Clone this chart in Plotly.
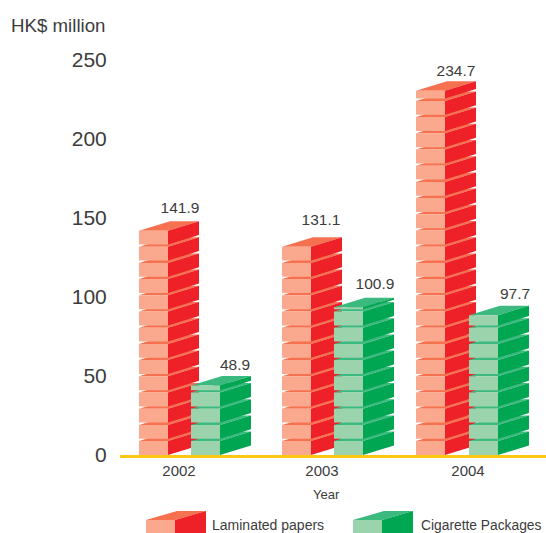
import plotly.graph_objects as go

# --- data ---
years = ["2002", "2003", "2004"]
laminated_labels = ["141.9", "131.1", "234.7"]
cigarette_labels = ["48.9", "100.9", "97.7"]
# drawn heights as read against the picture's y axis
laminated_heights = [142.0, 132.0, 230.5]
cigarette_heights = [44.0, 93.5, 88.5]

# --- layout constants (px) ---
W, H = 546, 533
L, R, T, B = 120, 546, 50, 455
PX = 1.58  # px per y unit
red_left = [19, 162, 296]
green_left = [71, 214, 349]
tick_x = [59, 202, 348]
FRONT, DEPTH_X, DEPTH_Y = 29, 31, 9.5
BRICK, GAP = 13.9, 2.3
# value-label nudges (px) relative to the back edge of each column
red_nudge = [(-1, 4), (-3, 8), (-2, 1)]
green_nudge = [(2, 2), (-1, 5), (4, 3)]

RED = ("#FBA98E", "#F6714F", "#EE2028")
GREEN = ("#9AD3AC", "#3CB97F", "#00A651")
TXT = "#3c3c3c"
FONT = "Liberation Sans"


def stack(lefts, heights):
    top, front, side = ([], []), ([], []), ([], [])

    def add(store, xs, ys):
        store[0].extend(xs + [None])
        store[1].extend(ys + [None])

    dy = DEPTH_Y / PX
    period = (BRICK + GAP) / PX
    for x0, h in zip(lefts, heights):
        x1 = x0 + FRONT
        y0 = 0.0
        while y0 < h - 0.01:
            y1 = min(y0 + BRICK / PX, h)
            add(front, [x0, x1, x1, x0], [y0, y0, y1, y1])
            add(side, [x1, x1 + DEPTH_X, x1 + DEPTH_X, x1], [y0, y0 + dy, y1 + dy, y1])
            add(top, [x0, x1, x1 + DEPTH_X, x0 + DEPTH_X], [y1, y1, y1 + dy, y1 + dy])
            y0 += period
    return top, front, side


fig = go.Figure()
for lefts, heights, cols, labels, nudge in [
    (red_left, laminated_heights, RED, laminated_labels, red_nudge),
    (green_left, cigarette_heights, GREEN, cigarette_labels, green_nudge),
]:
    top, front, side = stack(lefts, heights)
    for (xs, ys), c in zip((top, front, side), (cols[1], cols[0], cols[2])):
        fig.add_trace(go.Scatter(x=xs, y=ys, mode="lines", fill="toself", fillcolor=c,
                                 line=dict(width=0, color=c), hoverinfo="skip", showlegend=False))
    fig.add_trace(go.Scatter(
        x=[x + 42 + n[0] for x, n in zip(lefts, nudge)],
        y=[h + (DEPTH_Y + n[1]) / PX for h, n in zip(heights, nudge)],
        mode="text", text=labels, textposition="top center",
        textfont=dict(size=15.5, color=TXT, family=FONT),
        hoverinfo="skip", showlegend=False, cliponaxis=False))

fig.update_layout(
    width=W, height=H, autosize=False, paper_bgcolor="white", plot_bgcolor="white",
    margin=dict(l=L, r=W - R, t=T, b=H - B, pad=0),
    font=dict(family=FONT, color=TXT),
    xaxis=dict(range=[0, R - L], tickmode="array", tickvals=tick_x, ticktext=years,
               showgrid=False, zeroline=False, showline=True, linecolor="#FFC814", linewidth=3,
               ticks="", tickfont=dict(size=15, color=TXT, family=FONT), automargin=False, fixedrange=True),
    yaxis=dict(range=[0, (B - T) / PX], tickmode="array", tickvals=[0, 50, 100, 150, 200, 250],
               showgrid=False, zeroline=False, showline=False, ticks="outside", ticklen=8,
               tickcolor="rgba(0,0,0,0)", tickwidth=1,
               tickfont=dict(size=21, color=TXT, family=FONT), automargin=False, fixedrange=True),
)


def ann(px, py, text, size, anchor="left"):
    fig.add_annotation(
        x=(px - L) / (R - L), y=(B - py) / (B - T), xref="paper", yref="paper",
        text=text, showarrow=False, xanchor=anchor, yanchor="middle",
        font=dict(size=size, color=TXT, family=FONT))


ann(9, 26, "HK$ million", 18.7)
ann(326, 494, "Year", 13, "center")
ann(210, 525, "Laminated papers", 14)
ann(419, 525, "Cigarette Packages", 13.8)


def swatch(x0, cols):
    def poly(pts, c):
        path = "M" + " L".join(f"{(x - L) / (R - L):.5f},{(B - y) / (B - T):.5f}" for x, y in pts) + " Z"
        fig.add_shape(type="path", path=path, xref="paper", yref="paper",
                      fillcolor=c, line=dict(width=0), layer="above")
    x1 = x0 + 29
    x2 = x1 + 31
    poly([(x0, 520), (x1, 520), (x1, 534), (x0, 534)], cols[0])
    poly([(x0, 520), (x1, 520), (x2, 511), (x0 + 31, 511)], cols[1])
    poly([(x1, 520), (x2, 511), (x2, 534), (x1, 534)], cols[2])


swatch(146, RED)
swatch(353, GREEN)

fig.write_html("out.html", config=dict(displayModeBar=False),
               post_script="document.body.style.margin='0';document.body.style.overflow='hidden';")
